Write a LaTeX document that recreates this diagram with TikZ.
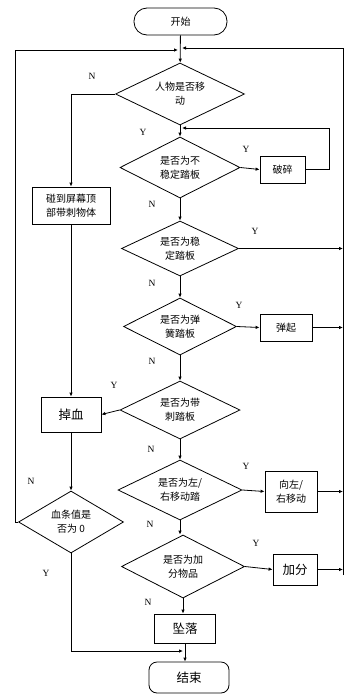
\documentclass[tikz,border=0pt]{standalone}
\usepackage{fontspec}
\usepackage{tikz}
\usetikzlibrary{arrows.meta,positioning,calc,shapes.geometric}
\newfontfamily\cjkfont{Noto Sans CJK SC}
\newfontfamily\ynfont{Liberation Serif}
\tikzset{
  fcbox/.style={draw=black, line width=0.8pt, fill=white, align=center,
    font=\cjkfont\fontsize{10}{14}\selectfont, inner sep=0pt},
  fcbig/.style={fcbox, font=\cjkfont\fontsize{12.5}{14}\selectfont},
  fcterm/.style={fcbox, rounded corners=8pt},
  fcdec/.style={draw=black, line width=0.8pt, diamond, aspect=2, inner sep=0pt,
    align=center, font=\cjkfont\fontsize{10}{14}\selectfont},
  fcarrow/.style={-{Latex[length=4pt,width=3.5pt]}, line width=0.8pt, draw=black},
  fcline/.style={line width=0.8pt, draw=black},
  fclab/.style={font=\ynfont\fontsize{9.5}{10}\selectfont, inner sep=0pt}
}

\begin{document}
\begin{tikzpicture}[x=1pt,y=-1pt]
  \useasboundingbox (0,0) rectangle (351,699);
  % terminals and boxes
  \node[fcterm, minimum width=93pt, minimum height=27pt, rounded corners=13pt] (start) at (180.5,21.5) {开始};
  \node[fcterm, minimum width=80pt, minimum height=31pt, font=\cjkfont\fontsize{12.5}{14}\selectfont] (end) at (189,677.5) {结束};
  \node[fcbox, minimum width=78pt, minimum height=37pt] (top) at (71,205.5) {碰到屏幕顶\\部带刺物体};
  \node[fcbig, minimum width=60pt, minimum height=35pt] (hurt) at (71,414.5) {掉血};
  \node[fcbox, minimum width=45pt, minimum height=27pt] (brk) at (282.5,169.5) {破碎};
  \node[fcbox, minimum width=52pt, minimum height=27pt] (jump) at (286,327.5) {弹起};
  \node[fcbox, minimum width=52pt, minimum height=41pt] (move) at (291,491.5) {向左/\\右移动};
  \node[fcbig, minimum width=44pt, minimum height=31pt] (score) at (295,569.5) {加分};
  \node[fcbig, minimum width=61pt, minimum height=29pt] (fall) at (185,628.5) {坠落};
  % decisions
  \node[fcdec, minimum width=129pt, minimum height=62pt] (d1) at (180,94) {人物是否移\\动};
  \node[fcdec, minimum width=120pt, minimum height=61pt] (d2) at (180,167.5) {是否为不\\稳定踏板};
  \node[fcdec, minimum width=117pt, minimum height=55pt] (d3) at (180,248.5) {是否为稳\\定踏板};
  \node[fcdec, minimum width=113pt, minimum height=57pt] (d4) at (180,326.5) {是否为弹\\簧踏板};
  \node[fcdec, minimum width=120pt, minimum height=58pt] (d5) at (180,410) {是否为带\\刺踏板};
  \node[fcdec, minimum width=124pt, minimum height=60pt] (d6) at (180,490) {是否为左/\\右移动踏};
  \node[fcdec, minimum width=123pt, minimum height=63pt] (d7) at (183,566.5) {是否为加\\分物品};
  \node[fcdec, minimum width=105pt, minimum height=62pt] (d8) at (71,522) {血条值是\\否为 0};
  % joins
  \coordinate (joinl) at (178,50);
  \coordinate (joinr) at (182,48);
  \coordinate (loopin) at (182,128);
  \coordinate (railtop) at (343,48);
  \coordinate (railbot) at (343,575);
  \coordinate (joinb) at (183,651);
  % main column
  \draw[fcarrow] (start) -- (d1);
  \draw[fcarrow] (d1) -- (d2);
  \draw[fcarrow] (d2) -- (d3);
  \draw[fcarrow] (d3) -- (d4);
  \draw[fcarrow] (d4) -- (d5);
  \draw[fcarrow] (d5) -- (d6);
  \draw[fcarrow] (d6.south) -- (d6.south |- d7.north);
  \draw[fcarrow] (d7.south) -- (d7.south |- fall.north);
  \draw[fcarrow] (fall.south) -- (fall.south |- end.north);
  % left branch
  \draw[fcarrow] (d1.west) -| (top.north);
  \draw[fcarrow] (top) -- (hurt);
  \draw[fcarrow] (d5.west) -- (hurt.east);
  \draw[fcarrow] (hurt) -- (d8);
  \draw[fcarrow] (d8.west) -- ++(-3,0) |- (joinl);
  \draw[fcarrow] (d8.south) |- (joinb);
  % right branch
  \draw[fcarrow] (d2.east) -- (brk.west);
  \draw[fcarrow] (brk.east) -- ++(24,0) |- (loopin);
  \draw[fcarrow] (d3.east) -- (d3.east -| railtop);
  \draw[fcarrow] (d4.east) -- (jump.west);
  \draw[fcarrow] (jump.east) -- (jump.east -| railtop);
  \draw[fcarrow] (d6.east) -- (move.west);
  \draw[fcarrow] (move.east) -- (move.east -| railtop);
  \draw[fcarrow] (d7.east) -- (score.west);
  \draw[fcarrow] (score.east) -- (score.east -| railtop);
  \draw[fcarrow] (railbot) -- (railtop) -- (joinr);
  % Y/N labels
  \foreach \x/\y/\lab [count=\i] in {92/76/N,143/132/Y,246/149/Y,152/204/N,255/231/Y,
      152/283/N,239/305/Y,152/361/N,114/385/Y,151/449/N,246/466/Y,31/481/N,
      150/524/N,256/543/Y,46/573/Y,148/602/N} {
    \node[fclab] (lab\i) at (\x,\y) {\lab};
  }
\end{tikzpicture}
\end{document}
